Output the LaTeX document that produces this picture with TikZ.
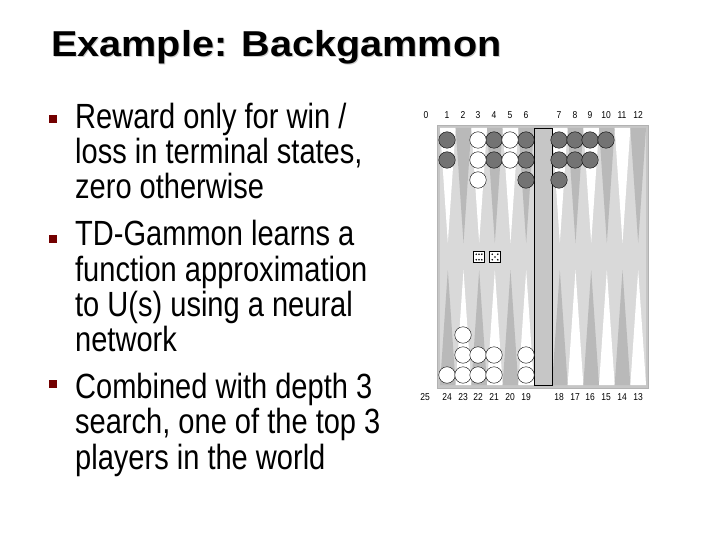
\documentclass[tikz,border=0pt]{standalone}
\usepackage{fontspec}
\setmainfont{Liberation Sans}
\begin{document}
\begin{tikzpicture}[x=1pt,y=-1pt,
  body/.style={anchor=base west,inner sep=0pt,font=\fontsize{35}{35}\selectfont,xscale=0.83},
  bul/.style={fill=red!45!black,minimum size=8pt,inner sep=0pt},
  num/.style={font=\fontsize{10}{10}\selectfont,inner sep=0pt,xscale=0.85},
  dk/.style={circle,draw=black,fill=gray!90!black,minimum size=16.5pt,inner sep=0pt},
  wt/.style={circle,draw=black,fill=white,minimum size=16.5pt,inner sep=0pt},
  die/.style={draw=black,line width=1pt,fill=white,minimum size=11pt,inner sep=0pt},
  pip/.style={fill=black}]
\useasboundingbox (0,0) rectangle (720,540);
\fill[white] (0,0) rectangle (720,540);
\node[anchor=base west,inner sep=0pt,font=\fontsize{36}{36}\selectfont\bfseries,xscale=1.1,gray!40] (tsh) at (52,58) {Example: Backgammon};
\node[anchor=base west,inner sep=0pt,font=\fontsize{36}{36}\selectfont\bfseries,xscale=1.1] (title) at (51,57) {Example: Backgammon};
% bullets
\node[bul] (b1) at (53,119) {};
\node[bul] (b2) at (53,239) {};
\node[bul] (b3) at (53,384) {};
\node[body] (t1) at (75,129) {Reward only for win /};
\node[body] (t2) at (75,164) {loss in terminal states,};
\node[body] (t3) at (75,199) {zero otherwise};
\node[body] (t4) at (75,245) {TD-Gammon learns a};
\node[body] (t5) at (75,281) {function approximation};
\node[body] (t6) at (75,316) {to U(s) using a neural};
\node[body] (t7) at (75,351) {network};
\node[body] (t8) at (75,398) {Combined with depth 3};
\node[body] (t9) at (75,433) {search, one of the top 3};
\node[body] (t10) at (75,469) {players in the world};
% board
\fill[gray!45] (437,125) rectangle (648,388);
\fill[gray!30] (440,128) rectangle (646,385);
\foreach \i in {0,...,11}{
  \pgfmathsetmacro{\xl}{\i<6 ? 440+\i*15.67 : 552+(\i-6)*15.67}
  \pgfmathsetmacro{\xr}{\xl+15.67}
  \pgfmathsetmacro{\xm}{\xl+7.83}
  \pgfmathtruncatemacro{\odd}{mod(\i,2)}
  \ifnum\odd=0
    \fill[white] (\xl,128) -- (\xr,128) -- (\xm,243) -- cycle;
    \fill[gray!55] (\xl,385) -- (\xr,385) -- (\xm,270) -- cycle;
  \else
    \fill[gray!55] (\xl,128) -- (\xr,128) -- (\xm,243) -- cycle;
    \fill[white] (\xl,385) -- (\xr,385) -- (\xm,270) -- cycle;
  \fi
}
\draw[fill=gray!45,line width=0.8pt] (534,128) rectangle (552,385);
\draw[gray!60] (437,125) rectangle (648,388);
% numbers
\foreach \n/\x in {0/426,1/447,2/463,3/478,4/494,5/510,6/526,7/559,8/575,9/590,10/606,11/622,12/638}
  \node[num] (top\n) at (\x,115) {\n};
\foreach \n/\x in {25/425,24/447,23/463,22/478,21/494,20/510,19/526,18/559,17/575,16/590,15/606,14/622,13/638}
  \node[num] (bot\n) at (\x,397) {\n};
% checkers
\foreach \x/\y [count=\k] in {447/140,447/160,494/140,494/160,526/140,526/160,526/180,559/140,559/160,559/180,575/140,575/160,590/140,590/160,606/140}
  \node[dk] (d\k) at (\x,\y) {};
\foreach \x/\y [count=\k] in {478/140,478/160,478/180,510/140,510/160,447/375,463/375,463/355,463/335,478/375,478/355,494/375,494/355,526/375,526/355}
  \node[wt] (w\k) at (\x,\y) {};
\node[die] (die1) at (479,257) {};
\node[die] (die2) at (495,257) {};
\foreach \dx in {-2.8,0,2.8}\foreach \dy in {-2.8,2.8}
  \fill[pip] ([shift={(\dx,\dy)}]die1.center) circle (0.9);
\foreach \dx/\dy in {-2.8/-2.8,2.8/-2.8,0/0,-2.8/2.8,2.8/2.8}
  \fill[pip] ([shift={(\dx,\dy)}]die2.center) circle (0.9);
\end{tikzpicture}
\end{document}
